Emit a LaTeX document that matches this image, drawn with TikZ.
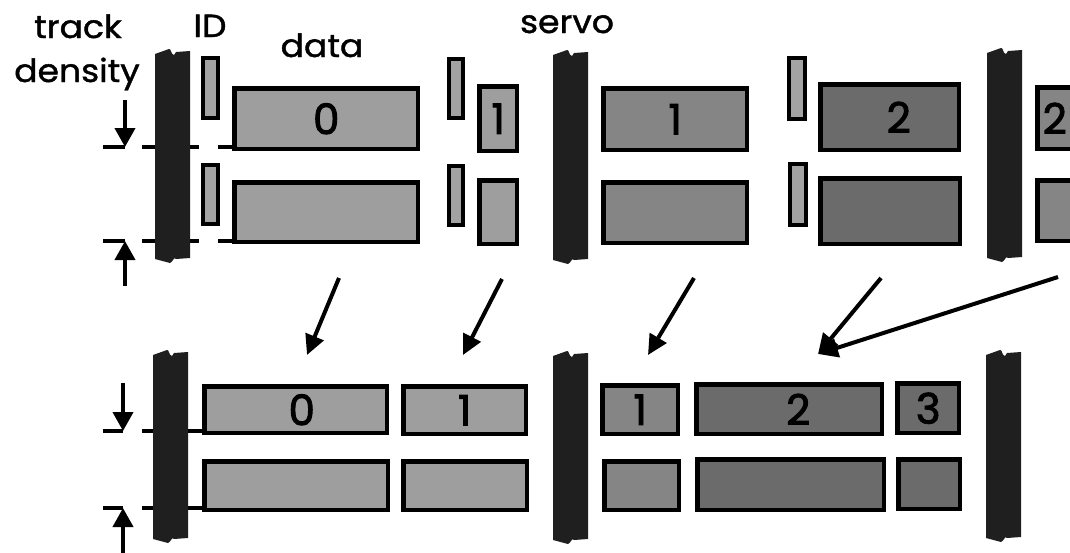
\documentclass[tikz,border=0pt]{standalone}
\usepackage{fontspec}
\setmainfont{Poppins}
\newfontfamily\lblfont{Poppins}[FakeBold=1.3, FakeStretch=1.08]
\newfontfamily\digfont{Poppins}[FakeBold=2.2]
\usetikzlibrary{arrows.meta}
\newcommand{\trkbox}[7]{\node[#1,minimum width={#4-#2-4.5},minimum height={#5-#3-4.5}] (#6) at ({#2+2.25},{#3+2.25}) {#7};}
\begin{document}
\begin{tikzpicture}[x=1pt,y=-1pt,
  lbl/.style={font=\lblfont\fontsize{32}{34}\selectfont, inner sep=0, anchor=base},
  blk/.style={draw=black, line width=4.5pt, inner sep=0, anchor=north west,
    font=\digfont\fontsize{42}{44}\selectfont},
  light/.style={blk, fill=black!38},
  med/.style={blk, fill=black!48},
  dark/.style={blk, fill=black!58},
  idbox/.style={blk, line width=4pt, fill=black!36},
  trk/.style={line width=4pt},
  conn/.style={line width=4pt, -{Triangle[length=20pt,width=19pt]}},
  pics/servobar/.style={code={
    \fill[black!88] (0,5) -- (14,0) .. controls (16,-1) and (16,6) .. (19,6)
      .. controls (20,5) .. (21,3) -- (35,2) -- (35,#1-3) -- (21,#1-2)
      .. controls (19,#1-5) and (18,#1+1) .. (15,#1+2) -- (0,#1-2) -- cycle;
  }}
]
\useasboundingbox (0,0) rectangle (1070,552);
\clip (0,0) rectangle (1070,552);

% labels
\node[lbl] (ltrack) at (78,38) {track};
\node[lbl] (ldens) at (77,82) {density};
\node[lbl] (lid) at (210,37) {ID};
\node[lbl] (ldata) at (322,57) {data};
\node[lbl] (lservo) at (567,33) {servo};

% ---------- top row ----------
% track lines
\coordinate (ta1) at (103,147); \coordinate (ta2) at (125,147);
\coordinate (ta3) at (142,147); \coordinate (ta4) at (199,147);
\coordinate (ta5) at (218,147);
\coordinate (tb1) at (103,241); \coordinate (tb2) at (125,241);
\coordinate (tb3) at (142,241); \coordinate (tb4) at (199,241);
\coordinate (tb5) at (218,241);
\draw[trk] (ta1) -- (ta2); \draw[trk] (ta3) -- (ta4); \draw[trk] (ta5) -- (232,147);
\draw[trk] (tb1) -- (tb2); \draw[trk] (tb3) -- (tb4); \draw[trk] (tb5) -- (232,241);
\coordinate (tda) at (125,100);
\coordinate (tua) at (125,286);
\draw[line width=4pt, -{Triangle[length=19pt,width=20pt]}] (tda) -- (ta2);
\draw[line width=4pt, -{Triangle[length=19pt,width=20pt]}] (tua) -- (tb2);

% servo bars
\pic (s1t) at (155,49) {servobar=212};
\pic (s2t) at (553,50) {servobar=212};
\pic (s3t) at (987,48) {servobar=212};

% ID fields
\trkbox{idbox}{199}{54}{218}{118}{id1a}{}
\trkbox{idbox}{199}{161}{218}{224}{id1b}{}
\trkbox{idbox}{445}{55}{463}{118}{id2a}{}
\trkbox{idbox}{445}{162}{463}{225}{id2b}{}
\trkbox{idbox}{785}{54}{805}{119}{id3a}{}
\trkbox{idbox}{786}{160}{806}{225}{id3b}{}

% data fields
\trkbox{light}{230}{84}{418}{149}{t0a}{0}
\trkbox{light}{230}{178}{418}{242}{t0b}{}
\trkbox{light}{475}{82}{517}{151}{t1a}{1}
\trkbox{light}{475}{176}{517}{244}{t1b}{}
\trkbox{med}{599}{84}{747}{150}{t2a}{1}
\trkbox{med}{599}{178}{747}{243}{t2b}{}
\trkbox{dark}{816}{80}{959}{150}{t3a}{\hspace*{18pt}2}
\trkbox{dark}{816}{174}{960}{244}{t3b}{}
\trkbox{med}{1033}{83}{1084}{149}{t4a}{2\hspace*{12pt}}
\trkbox{med}{1033}{176}{1084}{241}{t4b}{}

% ---------- arrows between rows ----------
\coordinate (a1s) at (339,278); \coordinate (a1e) at (307,355);
\coordinate (a2s) at (502,279); \coordinate (a2e) at (463,355);
\coordinate (a3s) at (694,278); \coordinate (a3e) at (648,355);
\coordinate (a4s) at (881,278); \coordinate (a4e) at (818,354);
\coordinate (a5s) at (1058,277);
\draw[conn] (a1s) -- (a1e);
\draw[conn] (a2s) -- (a2e);
\draw[conn] (a3s) -- (a3e);
\draw[conn] (a4s) -- (a4e);
\draw[conn] (a5s) -- (a4e);

% ---------- bottom row ----------
\coordinate (ba1) at (103,431); \coordinate (ba2) at (123,431);
\coordinate (ba3) at (142,431);
\coordinate (bb1) at (103,508); \coordinate (bb2) at (123,508);
\coordinate (bb3) at (142,508);
\draw[trk] (ba1) -- (ba2); \draw[trk] (ba3) -- (202,431);
\draw[trk] (bb1) -- (bb2); \draw[trk] (bb3) -- (202,508);
\coordinate (bda) at (123,383);
\coordinate (bua) at (123,556);
\draw[line width=4pt, -{Triangle[length=19pt,width=20pt]}] (bda) -- (ba2);
\draw[line width=4pt, -{Triangle[length=19pt,width=20pt]}] (bua) -- (bb2);

\pic (s1b) at (153,350) {servobar=191};
\pic (s2b) at (553,351) {servobar=191};
\pic (s3b) at (986,350) {servobar=190};

\trkbox{light}{200}{382}{387}{433}{b0a}{\hspace*{12pt}0}
\trkbox{light}{200}{457}{388}{510}{b0b}{}
\trkbox{light}{399}{382}{526}{434}{b1a}{1}
\trkbox{light}{399}{457}{527}{510}{b1b}{}
\trkbox{med}{598}{381}{678}{434}{b2a}{1}
\trkbox{med}{600}{457}{679}{510}{b2b}{}
\trkbox{dark}{692}{380}{882}{434}{b3a}{\hspace*{18pt}2}
\trkbox{dark}{693}{455}{884}{510}{b3b}{}
\trkbox{dark}{893}{379}{959}{433}{b4a}{3}
\trkbox{dark}{894}{455}{960}{509}{b4b}{}
\end{tikzpicture}
\end{document}
